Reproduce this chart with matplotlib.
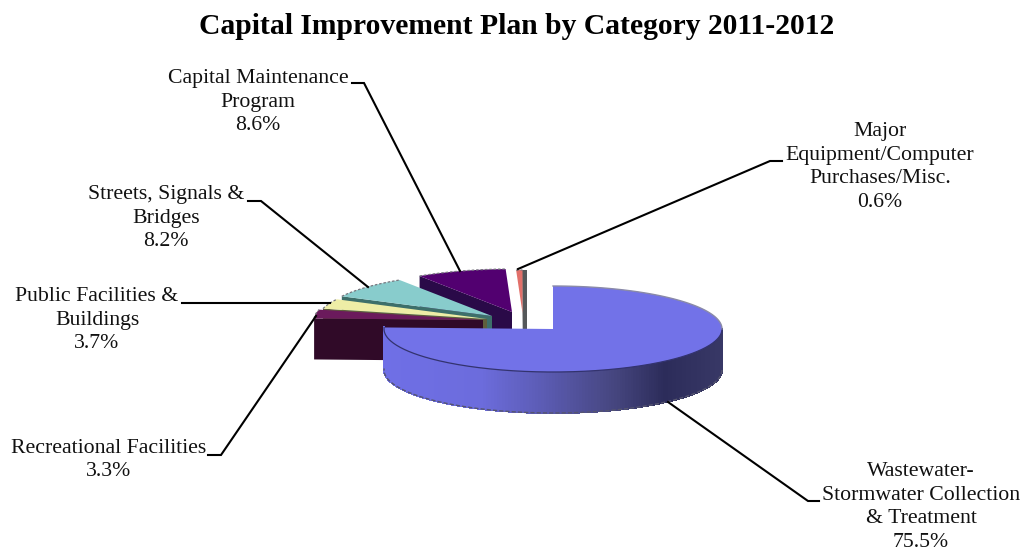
import numpy as np
import matplotlib
matplotlib.use("Agg")
import matplotlib.pyplot as plt
from matplotlib.patches import Polygon
from matplotlib.collections import PolyCollection
from matplotlib.colors import to_rgb

# pie values in drawing order, clockwise from twelve o'clock
categories = ["Wastewater-\nStormwater Collection\n& Treatment",
              "Recreational Facilities",
              "Public Facilities &\nBuildings",
              "Streets, Signals &\nBridges",
              "Capital Maintenance\nProgram",
              "Major\nEquipment/Computer\nPurchases/Misc."]
percents = [75.5, 3.3, 3.7, 8.2, 8.6, 0.6]
top_colors = ["#7272e8", "#6b1a5c", "#eeeda6", "#88cccc", "#520070", "#e2706a"]
wall_colors = ["#7272e8", "#300a28", "#5f5e3c", "#3d6f6a", "#2a0a48", "#55585a"]

RX = 169
RY = 43
DEPTH = 41
# apex of each slice, the small ones are pulled away from the big one
apex = [(553, 329), (483, 320), (487, 319), (492, 316), (512, 312), (522.5, 313)]

# label centre and leader polyline for each slice
label_pos = [(921, 507), (109, 460), (97, 320), (166, 218), (258, 102), (880, 167)]
leaders = [[(819, 501), (808, 501), (668, 402)],
           [(208, 455), (221, 455), (316, 316)],
           [(182, 303), (330, 303)],
           [(248, 201), (261, 201), (368, 287)],
           [(352, 83), (364, 83), (460, 271)],
           [(782, 161), (770, 161), (518, 269)]]

# shading of the big slice's rim, by x position
shade_x = [385, 480, 547, 613, 663, 722]
shade_c = ["#6f6fe6", "#6c6cdc", "#5a5ab0", "#46467f", "#2c2c5a", "#383866"]

plt.rcParams["font.family"] = ["Liberation Serif", "DejaVu Serif"]
fig = plt.figure(figsize=(10.25, 5.57), dpi=100)
ax = fig.add_axes([0, 0, 1, 1])
ax.set_xlim(0, 1025)
ax.set_ylim(557, 0)
ax.axis("off")


def arc(center, a0, a1, n=60):
    t = np.radians(np.linspace(a0, a1, n))
    return np.column_stack([center[0] + RX * np.sin(t), center[1] - RY * np.cos(t)])


ends = np.cumsum(percents) / sum(percents) * 360
starts = np.concatenate([[0], ends[:-1]])

# back slices first so that the nearer ones cover them
for i in [5, 4, 3, 2, 1]:
    c = apex[i]
    rim = arc(c, starts[i], ends[i], 30)
    if i == 5:
        # thin slice, we see its far wall next to the top
        wall = [rim[-1], (c[0] + 4.5, rim[-1][1]), (c[0] + 4.5, c[1] + DEPTH), (c[0], c[1] + DEPTH)]
    else:
        p = rim[0]
        wall = [p, c, (c[0], c[1] + DEPTH), (p[0], p[1] + DEPTH)]
    ax.add_patch(Polygon(wall, closed=True, fc=wall_colors[i], ec="none", zorder=2 + (5 - i)))
    ax.add_patch(Polygon(np.vstack([[c], rim]), closed=True, fc=top_colors[i], ec="none", zorder=2 + (5 - i)))
    ax.plot(rim[:, 0], rim[:, 1], color="#77777f", lw=0.9, ls=(0, (2, 1.5)), zorder=2 + (5 - i))

# big slice: shaded rim from small strips
c = apex[0]
edge = arc(c, 90, ends[0], 180)
quads = []
shades = []
rgb = np.array([to_rgb(s) for s in shade_c])
for a, b in zip(edge[:-1], edge[1:]):
    quads.append([a, b, (b[0], b[1] + DEPTH), (a[0], a[1] + DEPTH)])
    xm = (a[0] + b[0]) / 2
    shades.append([np.interp(xm, shade_x, rgb[:, k]) for k in range(3)])
ax.add_collection(PolyCollection(quads, facecolors=shades, edgecolors=shades, linewidths=0.8,
                                 antialiaseds=False, zorder=8))
ax.plot(edge[:, 0], edge[:, 1] + DEPTH, color="#55556f", lw=1.0, ls=(0, (3, 1.5)), zorder=9)

rim = arc(c, starts[0], ends[0], 240)
ax.add_patch(Polygon(np.vstack([[c], rim]), closed=True, fc=top_colors[0], ec="none", zorder=10))
ax.plot(edge[:, 0], edge[:, 1], color="#33336e", lw=0.9, zorder=11)
back = arc(c, 0, 90, 60)
ax.plot(back[:, 0], back[:, 1], color="#8a8aa8", lw=1.0, zorder=11)

# labels and leaders
for name, pct, pos, line in zip(categories, percents, label_pos, leaders):
    ax.text(pos[0], pos[1], f"{name}\n{pct}%", ha="center", va="center", fontsize=15.7,
            linespacing=1.34, color="#111111", zorder=20)
    xs, ys = zip(*line)
    ax.plot(xs, ys, color="black", lw=1.5, solid_joinstyle="miter", zorder=15)

ax.text(517, 26, "Capital Improvement Plan by Category 2011-2012", ha="center", va="center",
        fontsize=21.3, fontweight="bold", color="black")

fig.savefig("out.png", dpi=100)
